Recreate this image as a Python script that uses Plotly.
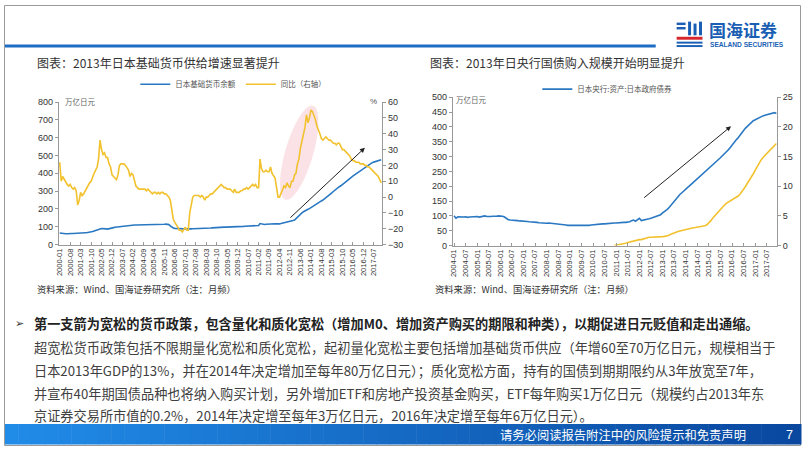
import numpy as np
import pandas as pd
import plotly.graph_objects as go

W, H = 802, 451


def X(px):
    return px / W


def Y(py):
    return 1 - py / H


# ---- data: chart 1, monthly 2000-01 .. 2017-12 ----
base_money = [
    65, 63, 62, 62, 61, 61, 60, 60, 62, 62, 63, 63,
    65, 64, 64, 65, 65, 66, 66, 67, 68, 70, 73, 76,
    80, 84, 86, 88, 90, 88, 88, 88, 87, 88, 90, 92,
    95, 97, 98, 100, 102, 104, 105, 106, 107, 108, 108, 108,
    109, 109, 110, 110, 110, 110, 111, 111, 111, 111, 112, 112,
    112, 112, 112, 113, 113, 113, 113, 113, 114, 114, 114, 115,
    115, 112, 105, 98, 93, 91, 90, 90, 89, 89, 88, 88,
    89, 88, 89, 88, 88, 89, 89, 90, 90, 90, 90, 90,
    91, 90, 91, 92, 93, 93, 94, 95, 95, 96, 96, 96,
    97, 97, 98, 98, 98, 99, 99, 100, 100, 100, 101, 101,
    101, 102, 102, 102, 103, 103, 104, 104, 105, 105, 106, 106,
    106, 107, 118, 115, 114, 113, 114, 115, 116, 117, 118, 118,
    117, 116, 115, 116, 118, 120, 121, 122, 124, 125, 127, 130,
    135, 138, 146, 155, 165, 173, 178, 184, 190, 194, 198, 202,
    208, 214, 220, 226, 231, 236, 240, 245, 250, 256, 262, 268,
    275, 282, 290, 298, 306, 314, 320, 325, 330, 336, 342, 348,
    356, 363, 370, 377, 384, 390, 397, 404, 410, 417, 424, 430,
    436, 441, 446, 451, 456, 460, 463, 466, 468, 471, 474, 476,
]
base_yoy = [
    22, 10, 13, 11, 9, 8, 7, 8, 6, 5, 6, 4,
    -5, -2, 3, 1, 2, 4, 6, 8, 9, 10, 13, 15,
    17, 19, 24, 36, 30, 27, 28, 25, 25, 21, 19, 14,
    13, 12, 11, 14, 20, 21, 21, 21, 20, 18, 17, 13,
    15, 14, 10, 7, 6, 5, 5, 5, 5, 5, 4, 5,
    4, 3, 2, 3, 3, 2, 3, 2, 3, 3, 2, 2,
    1, 0, -2, -8, -14, -16, -18, -19, -21, -21, -22, -20,
    -19, -21, -21, -10, -4, 0, 1, 1, 1, 1, 0, 1,
    0, -2, 0, 0, 1, 2, 2, 3, 4, 5, 6, 7,
    8, 7, 6, 6, 5, 5, 5, 4, 3, 5, 3, 3,
    3, 4, 4, 5, 5, 6, 5, 6, 7, 8, 7, 8,
    6, 6, 24, 18, 16, 16, 17, 16, 16, 19, 15, 13,
    12, 6, 0, 0, 2, 5, 7, 6, 9, 7, 6, 10,
    10, 14, 15, 21, 24, 31, 36, 40, 44, 52, 47, 50,
    55, 54, 52, 49, 45, 43, 40, 37, 36, 37, 38, 37,
    36, 36, 35, 34, 34, 33, 34, 34, 32, 30, 30, 29,
    28, 27, 26, 24, 23, 23, 22, 22, 22, 21, 21, 21,
    20, 20, 19, 19, 18, 17, 16, 15, 14, 13, 11, 9,
]

# ---- data: chart 2, monthly 2004-01 .. 2017-12 ----
boj_jgb = [
    100, 92, 97, 96, 95, 96, 97, 95, 96, 97, 96, 97,
    98, 96, 97, 99, 100, 98, 97, 98, 99, 98, 99, 100,
    100, 99, 97, 92, 88, 86, 86, 85, 84, 84, 83, 83,
    82, 82, 81, 80, 80, 79, 78, 78, 77, 76, 76, 75,
    75, 76, 75, 74, 73, 72, 72, 71, 70, 69, 69, 68,
    68, 67, 67, 66, 66, 66, 66, 66, 67, 67, 68, 69,
    70, 71, 71, 72, 72, 73, 73, 74, 74, 75, 75, 76,
    76, 77, 77, 77, 78, 78, 78, 80, 84, 86, 82, 88,
    92, 84, 85, 87, 88, 90, 92, 94, 96, 98, 101, 104,
    110, 114, 119, 125, 133, 141, 150, 158, 165, 172, 178, 185,
    190, 196, 201, 207, 213, 219, 225, 230, 234, 240, 246, 252,
    258, 265, 270, 276, 283, 290, 296, 302, 308, 315, 322, 330,
    340, 348, 355, 362, 372, 380, 388, 396, 403, 410, 416, 421,
    424, 428, 432, 434, 437, 439, 441, 443, 445, 446, 448, 445,
]
# yellow series on right axis, monthly 2010-12 .. 2017-12
boj_other = [
    0.0,
    0.05, 0.1, 0.15, 0.2, 0.3, 0.4, 0.5, 0.6, 0.7, 0.8, 0.9, 1.0,
    1.0, 1.0, 1.1, 1.2, 1.35, 1.4, 1.4, 1.4, 1.45, 1.45, 1.5, 1.5,
    1.5, 1.55, 1.6, 1.7, 1.85, 2.0, 2.1, 2.2, 2.35, 2.45, 2.55, 2.6,
    2.65, 2.75, 2.85, 2.95, 3.0, 3.05, 3.1, 3.15, 3.2, 3.3, 3.35, 3.5,
    3.8, 4.2, 4.6, 5.0, 5.4, 5.8, 6.2, 6.5, 6.8, 7.1, 7.3, 7.5,
    7.7, 7.8, 8.0, 8.3, 8.6, 9.0, 9.5, 10.0, 10.5, 11.0, 11.5, 12.1,
    12.7, 13.3, 13.9, 14.4, 14.8, 15.2, 15.6, 15.9, 16.2, 16.5, 16.9, 17.2,
]

dates1 = pd.date_range("2000-01-01", periods=len(base_money), freq="MS")
dates2 = pd.date_range("2004-01-01", periods=len(boj_jgb), freq="MS")
dates3 = pd.date_range("2010-12-01", periods=len(boj_other), freq="MS")

BLUE = "#2a78c2"
GOLD = "#f2c12e"
CJK = "Noto Sans CJK SC"

fig = go.Figure()
fig.add_trace(go.Scatter(x=dates1, y=base_money, mode="lines", name="日本基础货币余额",
                         line=dict(color=BLUE, width=1.6), xaxis="x", yaxis="y", legend="legend"))
fig.add_trace(go.Scatter(x=dates1, y=base_yoy, mode="lines", name="同比（右轴）",
                         line=dict(color=GOLD, width=1.6), xaxis="x", yaxis="y2", legend="legend"))
fig.add_trace(go.Scatter(x=dates2, y=boj_jgb, mode="lines", name="日本央行:资产:日本政府债券",
                         line=dict(color=BLUE, width=1.6), xaxis="x2", yaxis="y3", legend="legend2"))
fig.add_trace(go.Scatter(x=dates3, y=boj_other, mode="lines", showlegend=False,
                         line=dict(color=GOLD, width=1.6), xaxis="x2", yaxis="y4"))

tickfont = dict(family="Liberation Sans, Arial", size=9, color="#333")
xfont = dict(family="Liberation Sans, Arial", size=7.5, color="#333")
axis_common = dict(showgrid=False, zeroline=False, showline=True, linecolor="#999",
                   linewidth=1, ticks="outside", ticklen=3, tickcolor="#999")

fig.update_layout(
    width=W, height=H, autosize=False,
    margin=dict(l=0, r=0, t=0, b=0),
    paper_bgcolor="white", plot_bgcolor="rgba(0,0,0,0)",
    xaxis=dict(domain=[X(55), X(380)], anchor="y", type="date",
               range=["1999-12-12", "2017-12-19"], tick0="2000-01-01", dtick="M7",
               tickformat="%Y-%m", tickangle=-90, tickfont=xfont,
               **{**axis_common, "ticks": "inside"}),
    yaxis=dict(domain=[Y(245), Y(99.3)], anchor="x", range=[0, 800], dtick=100,
               tickfont=tickfont, **axis_common),
    yaxis2=dict(overlaying="y", side="right", anchor="x", range=[-30, 60], dtick=10,
                tickfont=tickfont, **axis_common),
    xaxis2=dict(domain=[X(451), X(776.7)], anchor="y3", type="date",
                range=["2003-12-12", "2017-12-07"], tick0="2004-01-01", dtick="M6",
                tickformat="%Y-%m", tickangle=-90, tickfont=xfont,
                **{**axis_common, "ticks": "inside"}),
    yaxis3=dict(domain=[Y(246), Y(94.3)], anchor="x2", range=[0, 500], dtick=50,
                tickfont=tickfont, **axis_common),
    yaxis4=dict(overlaying="y3", side="right", anchor="x2", range=[0, 25], dtick=5,
                tickfont=tickfont, **axis_common),
    legend=dict(orientation="h", x=X(132), y=Y(81), xanchor="left", yanchor="middle",
                font=dict(family=CJK, size=7.5, color="#555"), bgcolor="rgba(0,0,0,0)",
                itemwidth=30, tracegroupgap=0),
    legend2=dict(orientation="h", x=X(536), y=Y(86), xanchor="left", yanchor="middle",
                 font=dict(family=CJK, size=7.5, color="#555"), bgcolor="rgba(0,0,0,0)",
                 itemwidth=30),
)

shapes = []
# page border
shapes.append(dict(type="rect", xref="paper", yref="paper", x0=X(0.5), x1=X(800.5),
                   y0=Y(450.5), y1=Y(0.5), line=dict(color="#9a9a9a", width=1)))
# top rule
shapes.append(dict(type="rect", xref="paper", yref="paper", x0=X(1), x1=X(655),
                   y0=Y(43.5), y1=Y(40.5), fillcolor="#1f6cc4", line=dict(width=0)))
# footer gradient bar
n = 60
c0, c1 = np.array([33, 140, 232]), np.array([10, 72, 160])
for i in range(n):
    t = i / (n - 1)
    c = (c0 + (c1 - c0) * t).astype(int)
    shapes.append(dict(type="rect", xref="paper", yref="paper",
                       x0=X(1 + i * 800 / n), x1=X(1 + (i + 1) * 800 / n + 0.5),
                       y0=Y(449.5), y1=Y(428.5),
                       fillcolor=f"rgb({c[0]},{c[1]},{c[2]})", line=dict(width=0)))
# logo icon
LOGO = "#1a5fb4"
for (x0, x1, y0, y1, col) in [
    (676, 685, 18, 20.5, LOGO), (676, 685, 22.5, 25, LOGO),
    (687.5, 690.5, 17, 31, LOGO), (693, 696, 19, 31, LOGO), (698.5, 701.5, 17, 31, LOGO),
    (676, 702, 32.5, 35.5, "#d7262e"), (676, 702, 37.5, 39.5, LOGO), (676, 702, 41, 43, LOGO),
]:
    shapes.append(dict(type="rect", xref="paper", yref="paper", x0=X(x0), x1=X(x1),
                       y0=Y(y1), y1=Y(y0), fillcolor=col, line=dict(width=0)))
# pink ellipse highlight
cx, cy, a, b = 296.7, 151.0, 50.0, 14.0
u = np.array([-27.0, 94.0]) / np.hypot(27, 94)
v = np.array([u[1], -u[0]])
th = np.linspace(0, 2 * np.pi, 60)
pts = [(cx + a * np.cos(t) * u[0] + b * np.sin(t) * v[0],
        cy + a * np.cos(t) * u[1] + b * np.sin(t) * v[1]) for t in th]
path = "M " + " L ".join(f"{X(px):.5f},{Y(py):.5f}" for px, py in pts) + " Z"
shapes.append(dict(type="path", xref="paper", yref="paper", path=path, layer="below",
                   fillcolor="rgba(245,190,200,0.45)", line=dict(width=0)))
fig.update_layout(shapes=shapes)

ann = []


def text(px, py, s, size, color="#333", family=CJK, xanchor="left", bold=False):
    ann.append(dict(x=X(px), y=Y(py), xref="paper", yref="paper", text=f"<b>{s}</b>" if bold else s,
                    showarrow=False, xanchor=xanchor, yanchor="middle",
                    font=dict(family=family, size=size, color=color)))


text(707, 25, "国海证券", 17, LOGO, bold=True)
text(708, 40, "SEALAND SECURITIES", 6.6, LOGO, family="Liberation Sans, Arial", bold=True)
text(31, 59, "图表：2013年日本基础货币供给增速显著提升", 12)
text(426, 59, "图表：2013年日央行国债购入规模开始明显提升", 12)
text(59, 99, "万亿日元", 7.5, "#666")
text(377, 99, "%", 8, "#555", family="Liberation Sans, Arial", xanchor="right")
text(452, 97, "万亿日元", 7.5, "#666")
text(31, 290, "资料来源：Wind、国海证券研究所（注：月频）", 9.3)
text(431, 290, "资料来源：Wind、国海证券研究所（注：月频）", 9.3)

body = [
    "超宽松货币政策包括不限期量化宽松和质化宽松，起初量化宽松主要包括增加基础货币供应（年增60至70万亿日元，规模相当于",
    "日本2013年GDP的13%，并在2014年决定增加至每年80万亿日元）；质化宽松方面，持有的国债到期期限约从3年放宽至7年，",
    "并宣布40年期国债品种也将纳入购买计划，另外增加ETF和房地产投资基金购买，ETF每年购买1万亿日元（规模约占2013年东",
    "京证券交易所市值的0.2%，2014年决定增至每年3万亿日元，2016年决定增至每年6万亿日元）。",
]
text(9, 326, "➢", 11, "#333", family="DejaVu Sans")
text(28, 326, "第一支箭为宽松的货币政策，包含量化和质化宽松（增加M0、增加资产购买的期限和种类），以期促进日元贬值和走出通缩。",
     13.2, "#222", bold=True)
for i, line in enumerate(body):
    text(28, 350 + i * 23.4, line, 13.2, "#404040")
text(748, 440, "请务必阅读报告附注中的风险提示和免责声明", 12.3, "white", xanchor="right")
text(795, 440, "7", 12.5, "white", family="Liberation Sans, Arial", xanchor="right")

# trend arrows
for (hx, hy, tx, ty) in [(362.7, 146, 286.7, 217.3), (730.7, 124, 642.3, 196.7)]:
    ann.append(dict(x=X(hx), y=Y(hy), xref="paper", yref="paper", ax=tx - hx, ay=ty - hy,
                    axref="pixel", ayref="pixel", showarrow=True, arrowhead=2,
                    arrowsize=1, arrowwidth=1, arrowcolor="#222", text=""))
fig.update_layout(annotations=ann)

fig.write_html("out.html", config={"displayModeBar": False},
               post_script="document.body.style.margin='0';document.body.style.overflow='hidden';")
